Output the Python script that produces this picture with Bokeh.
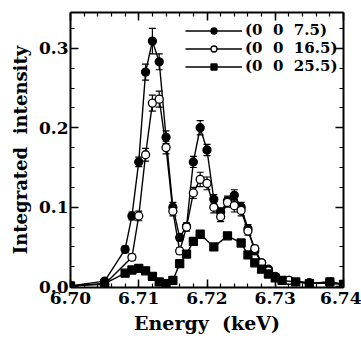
from bokeh.plotting import figure
from bokeh.models import (ColumnDataSource, Range1d, LinearAxis, Whisker, TeeHead,
                          Legend, LegendItem, SingleIntervalTicker,
                          NumeralTickFormatter, CustomLabelingPolicy)
from bokeh.embed import file_html
from bokeh.resources import INLINE

# ---- data ----
e_75 = [6.700, 6.705, 6.708, 6.709, 6.710, 6.711, 6.712, 6.713, 6.714, 6.715,
        6.716, 6.717, 6.718, 6.719, 6.720, 6.721, 6.722, 6.723, 6.724, 6.725,
        6.726, 6.727, 6.728, 6.729, 6.730, 6.732, 6.735, 6.738, 6.740]
i_75 = [0.001, 0.007, 0.047, 0.089, 0.157, 0.270, 0.309, 0.283, 0.188, 0.100,
        0.062, 0.076, 0.157, 0.200, 0.172, 0.110, 0.094, 0.108, 0.115, 0.100,
        0.073, 0.045, 0.030, 0.022, 0.013, 0.008, 0.004, 0.006, 0.003]
err_75 = [0.002, 0.002, 0.004, 0.005, 0.006, 0.010, 0.016, 0.010, 0.008, 0.006,
          0.004, 0.004, 0.007, 0.009, 0.007, 0.006, 0.005, 0.006, 0.007, 0.006,
          0.005, 0.004, 0.003, 0.003, 0.003, 0.002, 0.002, 0.003, 0.002]

e_165 = [6.700, 6.705, 6.709, 6.710, 6.711, 6.712, 6.713, 6.714, 6.715, 6.716,
         6.717, 6.718, 6.719, 6.720, 6.721, 6.722, 6.723, 6.724, 6.725, 6.726,
         6.727, 6.728, 6.729, 6.730, 6.732, 6.735, 6.738, 6.740]
i_165 = [0.001, 0.003, 0.037, 0.089, 0.166, 0.231, 0.236, 0.175, 0.095, 0.045,
         0.075, 0.118, 0.135, 0.130, 0.100, 0.088, 0.106, 0.102, 0.096, 0.070,
         0.048, 0.030, 0.020, 0.012, 0.008, 0.005, 0.004, 0.003]
err_165 = [0.002, 0.002, 0.004, 0.006, 0.008, 0.010, 0.010, 0.008, 0.006, 0.004,
           0.005, 0.007, 0.009, 0.008, 0.007, 0.006, 0.006, 0.008, 0.007, 0.005,
           0.004, 0.003, 0.003, 0.003, 0.002, 0.002, 0.002, 0.002]

e_255 = [6.700, 6.705, 6.708, 6.709, 6.710, 6.711, 6.712, 6.713, 6.714, 6.715,
         6.716, 6.717, 6.718, 6.719, 6.721, 6.723, 6.725, 6.726, 6.727, 6.728,
         6.729, 6.730, 6.731, 6.733, 6.735, 6.738, 6.740]
i_255 = [0.001, 0.004, 0.017, 0.021, 0.023, 0.020, 0.013, 0.006, 0.004, 0.008,
         0.029, 0.041, 0.057, 0.066, 0.050, 0.064, 0.055, 0.040, 0.030, 0.022,
         0.016, 0.011, 0.008, 0.006, 0.004, 0.006, 0.003]
err_255 = [0.002, 0.002, 0.003, 0.003, 0.003, 0.003, 0.003, 0.002, 0.002, 0.002,
           0.003, 0.003, 0.004, 0.004, 0.003, 0.004, 0.003, 0.003, 0.003, 0.002,
           0.002, 0.002, 0.002, 0.002, 0.002, 0.002, 0.002]

labels = ["(0\u00a0\u00a00\u00a0\u00a07.5)",
          "(0\u00a0\u00a00\u00a0\u00a016.5)",
          "(0\u00a0\u00a00\u00a0\u00a025.5)"]
x_label = "Energy\u00a0\u00a0(keV)"
y_label = "Integrated\u00a0\u00a0intensity"

FONT = "DejaVu Serif"

p = figure(width=361, height=336, output_backend="svg", toolbar_location=None,
           x_range=Range1d(6.700, 6.740), y_range=Range1d(-0.001, 0.345),
           min_border_left=70, min_border_right=17, min_border_top=12,
           min_border_bottom=49)
p.grid.visible = False
p.outline_line_color = None
p.background_fill_color = "white"

def style_axis(ax, show_labels):
    ax.axis_line_width = 2
    ax.axis_line_color = "black"
    ax.major_tick_in = 8
    ax.major_tick_out = 0
    ax.minor_tick_in = 4
    ax.minor_tick_out = 0
    ax.major_tick_line_width = 1.5
    ax.minor_tick_line_width = 1.2
    ax.major_tick_line_color = "black"
    ax.minor_tick_line_color = "black"
    if show_labels:
        ax.major_label_text_font = FONT
        ax.major_label_text_font_style = "bold"
        ax.major_label_text_font_size = "17px"
        ax.major_label_text_color = "black"
        ax.axis_label_text_font = FONT
        ax.axis_label_text_font_style = "bold"
        ax.axis_label_text_font_size = "18px"
        ax.axis_label_text_color = "black"
    else:
        ax.major_label_policy = CustomLabelingPolicy(code="return new Set()")
        ax.major_label_standoff = 0
        ax.axis_label_standoff = 0

p.xaxis.ticker = SingleIntervalTicker(interval=0.01, num_minor_ticks=5)
p.yaxis.ticker = SingleIntervalTicker(interval=0.1, num_minor_ticks=4)
p.xaxis.formatter = NumeralTickFormatter(format="0.00")
p.yaxis.formatter = NumeralTickFormatter(format="0.0")
p.xaxis.axis_label = x_label
p.yaxis.axis_label = y_label
style_axis(p.xaxis[0], True)
style_axis(p.yaxis[0], True)
p.xaxis.axis_label_text_font_size = "19px"
p.xaxis.major_label_standoff = 4
p.xaxis.axis_label_standoff = 5
p.yaxis.major_label_standoff = 2
p.yaxis.axis_label_standoff = 5
p.yaxis.major_label_orientation = "horizontal"

top = LinearAxis(ticker=SingleIntervalTicker(interval=0.01, num_minor_ticks=5))
right = LinearAxis(ticker=SingleIntervalTicker(interval=0.1, num_minor_ticks=4))
style_axis(top, False)
style_axis(right, False)
p.add_layout(top, "above")
p.add_layout(right, "right")

series = [
    (e_75, i_75, err_75, "circle", "black"),
    (e_165, i_165, err_165, "circle", "white"),
    (e_255, i_255, err_255, "square", "black"),
]

items = []
for (e, inten, err, marker, fill), lab in zip(series, labels):
    src = ColumnDataSource(dict(x=e, y=inten,
                                up=[a + b for a, b in zip(inten, err)],
                                lo=[a - b for a, b in zip(inten, err)]))
    lr = p.line("x", "y", source=src, line_color="black", line_width=1.4)
    w = Whisker(source=src, base="x", upper="up", lower="lo",
                line_color="black", line_width=1.2,
                upper_head=TeeHead(size=7, line_width=1.2, line_color="black"),
                lower_head=TeeHead(size=7, line_width=1.2, line_color="black"))
    p.add_layout(w)
    sr = p.scatter("x", "y", source=src, marker=marker, size=8,
                   fill_color=fill, line_color="black", line_width=1.3)
    items.append(LegendItem(label=lab, renderers=[lr, sr]))

legend = Legend(items=items, location=(115, 212),
                glyph_width=57, glyph_height=15, label_height=15,
                label_standoff=3, spacing=-2, padding=0, margin=0,
                border_line_color=None, background_fill_alpha=0,
                label_text_font=FONT, label_text_font_style="bold",
                label_text_color="black",
                label_text_font_size="15px", label_text_line_height=1.0)
p.add_layout(legend, "center")

open("out.html", "w").write(file_html(p, INLINE))
